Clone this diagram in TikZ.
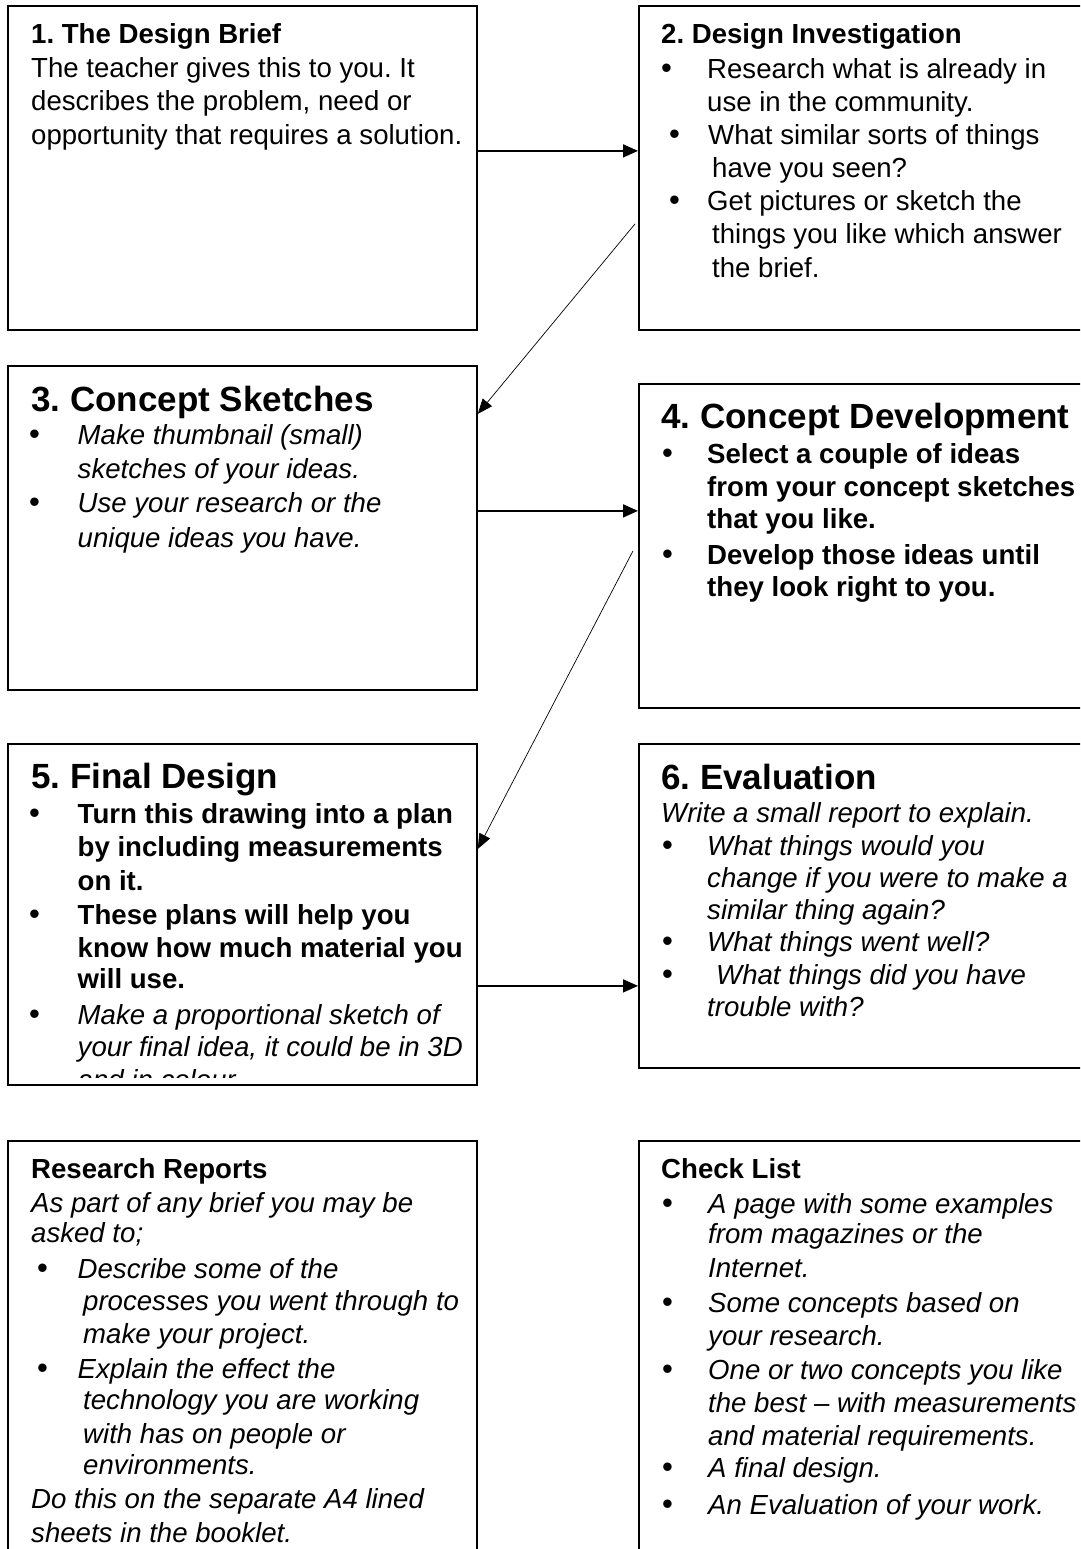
\documentclass[tikz,border=0pt]{standalone}
\usepackage{fontspec}
\setmainfont{Liberation Sans}
\usetikzlibrary{arrows.meta}
\frenchspacing
\begin{document}
\begin{tikzpicture}[x=1pt, y=-1pt,
  box/.style={draw=black, line width=1.8pt, rectangle, inner sep=0pt, anchor=north west},
  ln/.style={anchor=base west, inner sep=0pt, font=\fontsize{27.6}{33}\selectfont\frenchspacing},
  bul/.style={anchor=base west, inner sep=0pt, font=\fontsize{31}{33}\selectfont},
  big/.style={anchor=base west, inner sep=0pt, font=\fontsize{35}{40}\selectfont\bfseries},
  thick arrow/.style={line width=1.6pt, -{Triangle[length=15pt,width=13pt]}},
  thin arrow/.style={line width=0.7pt, -{Triangle[length=15pt,width=12pt]}}]
\useasboundingbox (0,0) rectangle (1080,1549);
\clip (0,0) rectangle (1080,1549);
\fill[white] (0,0) rectangle (1080,1549);

% boxes
\node[box, minimum width=469pt, minimum height=324pt] (b1) at (7,5) {};
\node[box, minimum width=452pt, minimum height=324pt] (b2) at (638,5) {};
\node[box, minimum width=469pt, minimum height=324pt] (b3) at (7,365) {};
\node[box, minimum width=452pt, minimum height=324pt] (b4) at (638,383) {};
\node[box, minimum width=469pt, minimum height=341pt] (b5) at (7,743) {};
\node[box, minimum width=452pt, minimum height=324pt] (b6) at (638,743) {};
\node[box, minimum width=469pt, minimum height=430pt] (b7) at (7,1140) {};
\node[box, minimum width=452pt, minimum height=430pt] (b8) at (638,1140) {};

% box 1
\foreach [count=\i] \x/\y/\t in {31/44/{\bfseries 1. The Design Brief},
  31/77.5/{The teacher gives this to you. It},
  31/111/{describes the problem, need or},
  31/144.5/{opportunity that requires a solution.}}
  {\node[ln] (p1-\i) at (\x,\y) {\t};}

% bullets
\foreach [count=\i] \x/\y in {661/78.5, 669/145, 669/211,
  29/444.5, 29/512.5,
  662/463, 662/564.5,
  29/823.5, 29/924.5, 29/1024.5,
  662/855, 662/951, 662/984,
  37/1278.5, 37/1378.5,
  662/1213, 662/1312, 662/1379, 662/1477.5, 662/1514}
  {\node[bul] (bu-\i) at (\x,\y) {•};}

% box 2
\foreach [count=\i] \x/\y/\t in {661/44/{\bfseries 2. Design Investigation},
  707/78.5/{Research what is already in},
  707/112/{use in the community.},
  708/145/{What similar sorts of things},
  712/177.5/{have you seen?},
  707/211/{Get pictures or sketch the},
  712/243.5/{things you like which answer},
  712/277/{the brief.}}
  {\node[ln] (p2-\i) at (\x,\y) {\t};}

% box 3
\node[big] (h3) at (31,411.5) {3. Concept Sketches};
\foreach [count=\i] \x/\y/\t in {77.5/444.5/{\itshape Make thumbnail (small)},
  77.5/478/{\itshape sketches of your ideas.},
  77.5/512.5/{\itshape Use your research or the},
  77.5/547/{\itshape unique ideas you have.}}
  {\node[ln] (p3-\i) at (\x,\y) {\t};}

% box 4
\node[big] (h4) at (661,428.5) {4. Concept Development};
\foreach [count=\i] \x/\y/\t in {707/463/{\bfseries Select a couple of ideas},
  707/496/{\bfseries from your concept sketches},
  707/528.5/{\bfseries that you like.},
  707/564.5/{\bfseries Develop those ideas until},
  707/596.5/{\bfseries they look right to you.}}
  {\node[ln] (p4-\i) at (\x,\y) {\t};}

% box 5
\node[big] (h5) at (31,788.5) {5. Final Design};
\begin{scope}
\clip (8,744) rectangle (475,1077);
\foreach [count=\i] \x/\y/\t in {77.5/823.5/{\bfseries Turn this drawing into a plan},
  77.5/856/{\bfseries by including measurements},
  77.5/890/{\bfseries on it.},
  77.5/924.5/{\bfseries These plans will help you},
  77.5/957/{\bfseries know how much material you},
  77.5/988/{\bfseries will use.},
  77.5/1024.5/{\itshape Make a proportional sketch of},
  77.5/1056.5/{\itshape your final idea, it could be in 3D},
  77.5/1089/{\itshape and in colour.}}
  {\node[ln] (p5-\i) at (\x,\y) {\t};}
\end{scope}

% box 6
\node[big] (h6) at (661,789) {6. Evaluation};
\foreach [count=\i] \x/\y/\t in {661/822/{\itshape Write a small report to explain.},
  707/855/{\itshape What things would you},
  707/887/{\itshape change if you were to make a},
  707/919/{\itshape similar thing again?},
  707/951/{\itshape What things went well?},
  716/984/{\itshape What things did you have},
  707/1016/{\itshape trouble with?}}
  {\node[ln] (p6-\i) at (\x,\y) {\t};}

% box 7
\foreach [count=\i] \x/\y/\t in {31/1178.5/{\bfseries Research Reports},
  31/1212/{\itshape As part of any brief you may be},
  31/1242.5/{\itshape asked to;},
  77.5/1278.5/{\itshape Describe some of the},
  83/1310/{\itshape processes you went through to},
  83/1343/{\itshape make your project.},
  77.5/1378.5/{\itshape Explain the effect the},
  83/1409.5/{\itshape technology you are working},
  83/1443/{\itshape with has on people or},
  83/1474/{\itshape environments.},
  31/1508/{\itshape Do this on the separate A4 lined},
  31/1542.5/{\itshape sheets in the booklet.}}
  {\node[ln] (p7-\i) at (\x,\y) {\t};}

% box 8
\foreach [count=\i] \x/\y/\t in {661/1178.5/{\bfseries Check List},
  708/1213/{\itshape A page with some examples},
  708/1243/{\itshape from magazines or the},
  708/1277.5/{\itshape Internet.},
  708/1312/{\itshape Some concepts based on},
  708/1345.5/{\itshape your research.},
  708/1379/{\itshape One or two concepts you like},
  708/1412/{\itshape the best – with measurements},
  708/1445/{\itshape and material requirements.},
  708/1477.5/{\itshape A final design.},
  708/1514/{\itshape An Evaluation of your work.}}
  {\node[ln] (p8-\i) at (\x,\y) {\t};}

% connectors
\draw[thick arrow] ([yshift=17pt]b1.east) -- ([yshift=17pt]b2.west);
\draw[thin arrow] ([yshift=-56pt,xshift=-3pt]b2.west) -- ([yshift=114pt]b3.east);
\draw[thick arrow] ([yshift=17pt]b3.east) -- ([yshift=35pt]b4.west);
\draw[thin arrow] ([yshift=-5pt,xshift=-5pt]b4.west) -- ([yshift=65.5pt]b5.east);
\draw[thick arrow] ([yshift=-71.5pt]b5.east) -- ([yshift=-80pt]b6.west);
\end{tikzpicture}
\end{document}
